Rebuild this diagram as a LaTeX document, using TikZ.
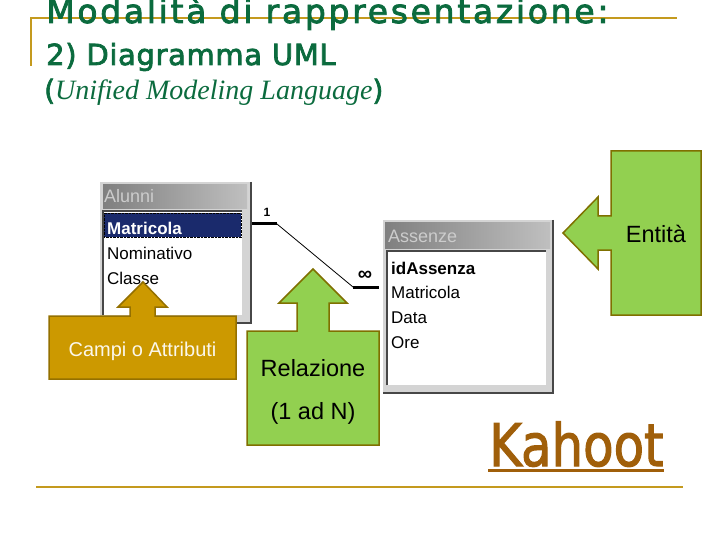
\documentclass[tikz,border=0pt]{standalone}
\usepackage{fontspec}
\usepackage{xcolor}
\setmainfont{Liberation Sans}
\newfontfamily\titlefont[FakeBold=2.5,LetterSpace=8.2]{DejaVu Sans}
\newfontfamily\subfont[FakeBold=2.5,LetterSpace=2.2]{DejaVu Sans}
\newfontfamily\kahootfont[FakeBold=2]{DejaVu Sans}
\newfontfamily\italfont{Liberation Serif}
\usetikzlibrary{positioning}

\definecolor{rulegold}{HTML}{C49A1E}
\definecolor{headgreen}{HTML}{0B6B3E}
\definecolor{boxgreen}{HTML}{92D050}
\definecolor{boxolive}{HTML}{7F7000}
\definecolor{boxgold}{HTML}{CC9900}
\definecolor{boxbrown}{HTML}{947000}
\definecolor{kahootbrown}{HTML}{A05F0A}
\definecolor{rowblue}{HTML}{1A2A6C}

\tikzset{
    head/.style={anchor=base west, inner sep=0pt, text=headgreen},
    window/.style={anchor=north west, inner sep=0pt, fill=black!17},
    titlebar/.style={anchor=north west, inner sep=0pt, left color=black!50, right color=black!25},
    titletext/.style={anchor=base west, inner sep=0pt, text=black!20, font=\fontsize{18}{20}\selectfont},
    listarea/.style={anchor=north west, inner sep=0pt, fill=white},
    darkedge/.style={draw=black!72, line width=2pt},
    fieldname/.style={anchor=base west, inner sep=0pt, font=\fontsize{17}{20}\selectfont},
    greenbox/.style={fill=boxgreen, draw=boxolive, line width=1.5pt, line join=miter},
    goldbox/.style={fill=boxgold, draw=boxbrown, line width=1.5pt, line join=miter},
    boxtext/.style={inner sep=0pt, font=\fontsize{23.5}{28}\selectfont}
}

\begin{document}
\begin{tikzpicture}[x=1pt, y=-1pt]
    \useasboundingbox (0,0) rectangle (720,540);

    % slide rules
    \coordinate (rule_corner) at (31,18);
    \coordinate (rule_right) at (677,18);
    \coordinate (rule_down) at (31,66);
    \coordinate (foot_left) at (36,487);
    \coordinate (foot_right) at (683,487);
    \draw[rulegold, line width=2.5pt] (rule_down) -- (rule_corner) -- (rule_right);
    \draw[rulegold, line width=2.5pt] (foot_left) -- (foot_right);

    % headings
    \node[head, font=\titlefont\fontsize{33}{36}\selectfont] (title) at (46,23) {Modalità di rappresentazione:};
    \node[head, font=\subfont\fontsize{29}{32}\selectfont] (subtitle) at (46,65) {2) Diagramma UML};
    \node[head, font=\italfont\fontsize{28}{32}\selectfont] (unified) at (44,100)
        {\subfont(\italfont\itshape Unified Modeling Language\subfont\upshape)};

    % table Alunni
    \node[window, minimum width=151pt, minimum height=141pt] (alunni) at (100,182) {};
    \node[titlebar, minimum width=144pt, minimum height=24pt] (alunni_bar) at (103,184) {};
    \node[titletext] (alunni_title) at (104,203) {Alunni};
    \node[listarea, minimum width=139pt, minimum height=104pt] (alunni_list) at (103,211) {};
    \node[anchor=north west, inner sep=0pt, fill=rowblue, draw=black, densely dotted,
          minimum width=137pt, minimum height=24pt] (alunni_row) at (104,213) {};
    \draw[darkedge] (alunni.north east) -- (alunni.south east) -- (alunni.south west);
    \draw[darkedge] (alunni_list.south west) -- (alunni_list.north west) -- (alunni_list.north east);
    \node[fieldname, text=white, font=\bfseries\fontsize{17}{20}\selectfont] (alunni_a) at (107,235) {Matricola};
    \node[fieldname] (alunni_b) at (107,259) {Nominativo};
    \node[fieldname] (alunni_c) at (107,284) {Classe};

    % table Assenze
    \node[window, minimum width=170pt, minimum height=173pt] (assenze) at (383,220) {};
    \node[titlebar, minimum width=165pt, minimum height=26pt] (assenze_bar) at (385,222) {};
    \node[titletext] (assenze_title) at (388,243) {Assenze};
    \node[listarea, minimum width=159pt, minimum height=134pt] (assenze_list) at (387,251) {};
    \draw[darkedge] (assenze.north east) -- (assenze.south east) -- (assenze.south west);
    \draw[darkedge] (assenze_list.south west) -- (assenze_list.north west) -- (assenze_list.north east);
    \node[fieldname, font=\bfseries\fontsize{17}{20}\selectfont] (assenze_a) at (391,274) {idAssenza};
    \node[fieldname] (assenze_b) at (391,298) {Matricola};
    \node[fieldname] (assenze_c) at (391,323) {Data};
    \node[fieldname] (assenze_d) at (391,348) {Ore};

    % relation between the tables
    \coordinate (rel_start) at (252,224);
    \coordinate (rel_bend_a) at (277,224);
    \coordinate (rel_bend_b) at (353,287);
    \coordinate (rel_end) at (379,287);
    \draw[line width=3pt] (rel_start) -- (rel_bend_a);
    \draw[line width=0.8pt] (rel_bend_a) -- (rel_bend_b);
    \draw[line width=3pt] (rel_bend_b) -- (rel_end);
    \node[inner sep=0pt, font=\bfseries\fontsize{12}{12}\selectfont] (rel_one) at (267,212) {1};
    \node[inner sep=0pt, font=\bfseries\fontsize{20}{20}\selectfont] (rel_many) at (365,276) {∞};

    % callouts
    \draw[greenbox] (611,151) -- (701,151) -- (701,315) -- (611,315) -- (611,250) -- (598,250)
        -- (598,269) -- (563,233) -- (598,197) -- (598,216) -- (611,216) -- cycle;
    \node[boxtext] (entita) at (656,234) {Entità};

    \draw[goldbox] (49,316) -- (130,316) -- (130,307) -- (118,307) -- (143,282) -- (167,307)
        -- (155,307) -- (155,316) -- (236,316) -- (236,379) -- (49,379) -- cycle;
    \node[boxtext, text=white!92!boxgold, font=\fontsize{20}{24}\selectfont] (campi) at (142.5,351) {Campi o Attributi};

    \draw[greenbox] (247,331) -- (297,331) -- (297,303) -- (279,303) -- (313,269) -- (347,303)
        -- (329,303) -- (329,331) -- (379,331) -- (379,445) -- (247,445) -- cycle;
    \node[boxtext] (relazione) at (313,368) {Relazione};
    \node[boxtext] (cardinality) at (313,413) {(1 ad N)};

    % link text
    \node[anchor=base west, inner sep=0pt, text=kahootbrown] (kahoot) at (489,466)
        {\kahootfont\fontsize{47}{50}\selectfont\scalebox{1.06}[1.25]{Kahoot}};
    \coordinate (kahoot_left) at (488,470);
    \coordinate (kahoot_right) at (664,470);
    \draw[kahootbrown, line width=3pt] (kahoot_left) -- (kahoot_right);
\end{tikzpicture}
\end{document}
